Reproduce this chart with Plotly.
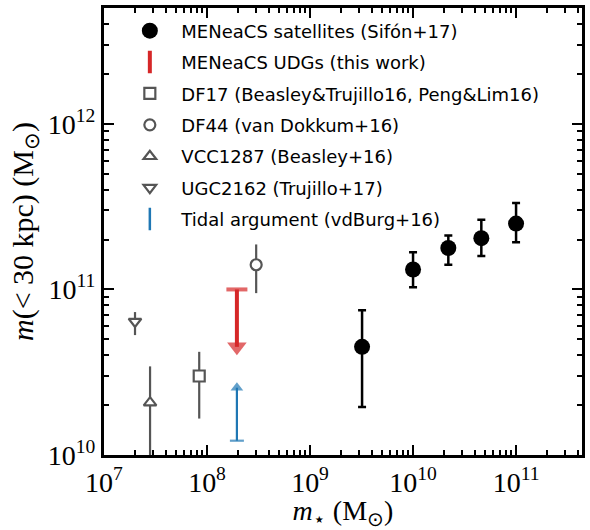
import numpy as np
import plotly.graph_objects as go

# ---- data ----
sat_mstar = [3.2e9, 1.0e10, 2.2e10, 4.6e10, 1.0e11]
sat_m30 = [4.5e10, 1.32e11, 1.78e11, 2.04e11, 2.5e11]
sat_hi = [7.5e10, 1.68e11, 2.12e11, 2.64e11, 3.33e11]
sat_lo = [1.95e10, 1.03e11, 1.41e11, 1.59e11, 1.93e11]

udg_mstar = [1.95e8]
udg_upper = [1.0e11]
udg_arrow_end = [4.5e10]

tidal_mstar = [1.95e8]
tidal_lower = [1.22e10]
tidal_arrow_end = [2.55e10]

df17 = dict(x=[8.4e7], y=[3.0e10], hi=[4.2e10], lo=[1.66e10])
df44 = dict(x=[3.0e8], y=[1.41e11], hi=[1.87e11], lo=[9.5e10])
vcc = dict(x=[2.8e7], y=[2.07e10], hi=[3.43e10], lo=[7.0e9])
ugc = dict(x=[2.0e7], y=[6.4e10], hi=[7.3e10], lo=[5.3e10])

x_range_log = [7, 11.64]
y_range_log = [10, 12.7]
xtick_vals = [1e7, 1e8, 1e9, 1e10, 1e11]
xtick_text = ["10<sup>7</sup>", "10<sup>8</sup>", "10<sup>9</sup>", "10<sup>10</sup>", "10<sup>11</sup>"]
ytick_vals = [1e10, 1e11, 1e12]
ytick_text = ["10<sup>10</sup>", "10<sup>11</sup>", "10<sup>12</sup>"]

RED = "#d62728"
BLUE = "#1f77b4"
GREY = "#555555"

W, H = 590, 530
M = dict(l=104, r=6, t=5, b=73)
PLOT_W = W - M["l"] - M["r"]
PLOT_H = H - M["t"] - M["b"]
MAJOR_LEN, MINOR_LEN = 10, 5

fig = go.Figure()

def errs(y, hi, lo):
    y = np.array(y); return list(np.array(hi) - y), list(y - np.array(lo))

# satellites
p, m = errs(sat_m30, sat_hi, sat_lo)
fig.add_trace(go.Scatter(
    x=sat_mstar, y=sat_m30, mode="markers", name="MENeaCS satellites (Sifón+17)",
    legendgroup="a",
    marker=dict(symbol="circle", size=16, color="black"),
    error_y=dict(type="data", array=p, arrayminus=m, color="black", thickness=2.5, width=4),
))

# red upper limit
fig.add_trace(go.Scatter(
    x=udg_mstar * 2, y=udg_upper + udg_arrow_end, mode="lines+markers",
    name="MENeaCS UDGs (this work)", legendgroup="b", showlegend=False,
    line=dict(color=RED, width=4),
    marker=dict(symbol=["line-ew", "triangle-down"], size=[15, 17], color=RED,
                line=dict(color=RED, width=[4, 0])),
))
fig.add_trace(go.Scatter(
    x=[None], y=[None], mode="markers", name="MENeaCS UDGs (this work)", legendgroup="b",
    marker=dict(symbol="line-ns", size=18, color=RED, line=dict(color=RED, width=4)),
))

def grey_trace(d, name, symbol, grp):
    p, m = errs(d["y"], d["hi"], d["lo"])
    fig.add_trace(go.Scatter(
        x=d["x"], y=d["y"], mode="markers", name=name, legendgroup=grp,
        marker=dict(symbol=symbol, size=11, color="white", line=dict(color=GREY, width=2.2)),
        error_y=dict(type="data", array=p, arrayminus=m, color=GREY, thickness=2.2, width=0),
    ))

grey_trace(df17, "DF17 (Beasley&amp;Trujillo16, Peng&amp;Lim16)", "square", "c")
grey_trace(df44, "DF44 (van Dokkum+16)", "circle", "d")
grey_trace(vcc, "VCC1287 (Beasley+16)", "triangle-up", "e")
grey_trace(ugc, "UGC2162 (Trujillo+17)", "triangle-down", "f")

# blue lower limit
fig.add_trace(go.Scatter(
    x=tidal_mstar * 2, y=tidal_lower + tidal_arrow_end, mode="lines+markers",
    name="Tidal argument (vdBurg+16)", legendgroup="g", showlegend=False,
    line=dict(color=BLUE, width=2.2),
    marker=dict(symbol=["line-ew", "triangle-up"], size=[10, 11], color=BLUE,
                line=dict(color=BLUE, width=[2.2, 0])),
))
fig.add_trace(go.Scatter(
    x=[None], y=[None], mode="markers", name="Tidal argument (vdBurg+16)", legendgroup="g",
    marker=dict(symbol="line-ns", size=16, color=BLUE, line=dict(color=BLUE, width=2.5)),
))

tick_common = dict(
    type="log", showgrid=False, zeroline=False,
    showline=True, linewidth=3, linecolor="black", mirror="ticks",
    ticks="inside", ticklen=MAJOR_LEN, tickwidth=2, tickcolor="black",
    tickfont=dict(family="Liberation Serif", size=28, color="black"),
    minor=dict(ticks="inside", ticklen=MINOR_LEN, tickwidth=1.5, tickcolor="black",
               showgrid=False, dtick="D1"),
)

# mirrored ticks on the top and right edges (axis decoration derived from the tick lists);
# shape positions on log axes are given as log10 values
def log_minor(lo, hi):
    out = []
    for d in range(int(np.floor(lo)), int(np.ceil(hi)) + 1):
        for k in range(2, 10):
            lv = np.log10(k) + d
            if lo < lv < hi:
                out.append(lv)
    return out

shapes = []
for v in np.log10(xtick_vals):
    shapes.append(dict(type="line", xref="x", yref="paper", x0=v, x1=v, y0=1,
                       y1=1 - MAJOR_LEN / PLOT_H, line=dict(color="black", width=2)))
for v in log_minor(*x_range_log):
    shapes.append(dict(type="line", xref="x", yref="paper", x0=v, x1=v, y0=1,
                       y1=1 - MINOR_LEN / PLOT_H, line=dict(color="black", width=1.5)))
for v in np.log10(ytick_vals):
    shapes.append(dict(type="line", xref="paper", yref="y", y0=v, y1=v, x0=1,
                       x1=1 - MAJOR_LEN / PLOT_W, line=dict(color="black", width=2)))
for v in log_minor(*y_range_log):
    shapes.append(dict(type="line", xref="paper", yref="y", y0=v, y1=v, x0=1,
                       x1=1 - MINOR_LEN / PLOT_W, line=dict(color="black", width=1.5)))

title_font = dict(family="Liberation Serif", size=28, color="black")

fig.update_layout(
    width=W, height=H,
    margin=M,
    paper_bgcolor="white", plot_bgcolor="white",
    shapes=shapes,
    xaxis=dict(**tick_common, range=x_range_log, tickvals=xtick_vals, ticktext=xtick_text,
               title=dict(text="<i>m</i><sub>⋆</sub> (M<sub>⊙</sub>)", standoff=8,
                          font=title_font)),
    yaxis=dict(**tick_common, range=y_range_log, tickvals=ytick_vals, ticktext=ytick_text,
               title=dict(text="<i>m</i>(&lt; 30 kpc) (M<sub>⊙</sub>)", standoff=6,
                          font=dict(family="Liberation Serif", size=30, color="black"))),
    legend=dict(x=0.03, y=0.99, xanchor="left", yanchor="top", bgcolor="rgba(0,0,0,0)",
                font=dict(family="DejaVu Sans", size=18, color="black"),
                itemwidth=53, tracegroupgap=5, traceorder="grouped"),
    showlegend=True,
)

fig.write_html("out.html")
